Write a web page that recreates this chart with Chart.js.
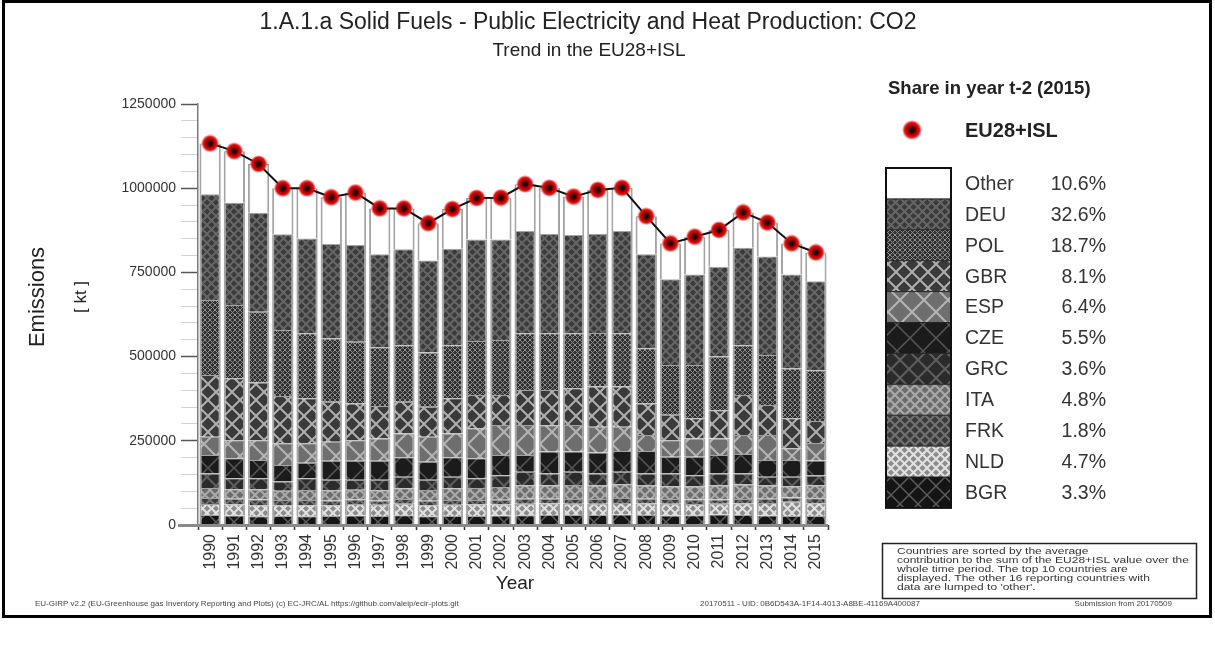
<!DOCTYPE html>
<html>
<head>
<meta charset="utf-8">
<title>1.A.1.a Solid Fuels - Public Electricity and Heat Production: CO2</title>
<script src="https://cdn.jsdelivr.net/npm/chart.js@4.4.1/dist/chart.umd.min.js"></script>
<style>
  html, body { margin: 0; padding: 0; background: #fff; }
  #wrap { position: relative; width: 1215px; height: 665px; }
</style>
</head>
<body>
<div id="wrap"><canvas id="chart" width="1215" height="665"></canvas></div>
<script>
// CO2 emissions from solid fuels in public electricity & heat production, kt
const years = ['1990','1991','1992','1993','1994','1995','1996','1997','1998','1999','2000','2001','2002',
               '2003','2004','2005','2006','2007','2008','2009','2010','2011','2012','2013','2014','2015'];

const bgr   = [30000,28000,26000,27000,26000,27000,28000,27000,29000,26000,27000,27000,28000,29000,30000,30000,30000,31000,30000,28000,29000,31000,30000,28000,27000,26600];
const nld   = [32000,33000,33000,32000,33000,32000,34000,33000,34000,33000,33000,34000,33000,34000,34000,33000,33000,34000,34000,35000,33000,32000,34000,37000,42000,38000];
const frk   = [18000,17000,17000,15000,15000,14000,14000,13000,14000,13000,14000,13000,14000,15000,14000,14000,14000,15000,14000,14000,14000,13000,13000,13000,13000,14500];
const ita   = [30000,28000,30000,28000,30000,30000,29000,30000,32000,32000,35000,36000,38000,40000,40000,42000,40000,41000,39000,38000,38000,42000,43000,39000,33000,38700];
const grc   = [43000,33000,33000,27000,35000,31000,29000,31000,34000,30000,34000,29000,35000,40000,35000,39000,36000,37000,36000,38000,34000,35000,33000,26000,28000,29000];
const cze   = [55000,59000,54000,49000,46000,57000,57000,57000,58000,54000,58000,59000,60000,50000,65000,60000,62000,62000,67000,50000,55000,55000,58000,50000,50000,44400];
const esp   = [54000,54000,59000,65000,58000,56000,61000,66000,71000,74000,71000,89000,89000,89000,78000,79000,77000,72000,47000,49000,54000,49000,56000,74000,35000,52000];
const gbr   = [183000,184000,171000,140000,133000,119000,109000,96000,94000,89000,104000,99000,89000,104000,105000,109000,119000,119000,94000,75000,60000,84000,119000,89000,89000,65400];
const pol   = [223000,217000,210000,196000,193000,188000,183000,175000,168000,161000,158000,160000,163000,168000,168000,163000,159000,158000,164000,148000,158000,159000,148000,149000,148000,151000];
const deu   = [314000,304000,294000,284000,282000,280000,287000,276000,285000,273000,286000,302000,299000,304000,295000,292000,294000,304000,279000,255000,269000,267000,289000,292000,279000,264000];
const other = [151000,153000,145000,137000,149000,139000,156000,136000,121000,111000,118000,123000,124000,139000,137000,114000,131000,128000,113000,106000,112000,109000,105000,101000,92000,85500];

const yTicksMajor = [0, 250000, 500000, 750000, 1000000, 1250000];

const noteLines = [
  'Countries are sorted by the average',
  'contribution to the sum of the EU28+ISL value over the',
  'whole time period. The top 10 countries are',
  'displayed. The other 16 reporting countries with',
  "data are lumped to 'other'."
];

const FONT = 'Arial, "Liberation Sans", Helvetica, sans-serif';
const canvas = document.getElementById('chart');
const ctx = canvas.getContext('2d');

// diagonal lattice fill used for the country hatches
function lattice(base, line, size, lw) {
  const t = document.createElement('canvas');
  t.width = t.height = size;
  const g = t.getContext('2d');
  g.fillStyle = base;
  g.fillRect(0, 0, size, size);
  if (line) {
    g.strokeStyle = line;
    g.lineWidth = lw;
    g.beginPath();
    g.moveTo(-1, -1); g.lineTo(size + 1, size + 1);
    g.moveTo(size + 1, -1); g.lineTo(-1, size + 1);
    g.stroke();
  }
  return ctx.createPattern(t, 'repeat');
}

// stacked bottom -> top
const series = [
  { label: 'BGR',   data: bgr,   fill: lattice('#141414', '#5c5c5c', 18, 1.5) },
  { label: 'NLD',   data: nld,   fill: lattice('#8c8c8c', '#e2e2e2', 9, 2) },
  { label: 'FRK',   data: frk,   fill: lattice('#3a3a3a', '#727272', 10, 2) },
  { label: 'ITA',   data: ita,   fill: lattice('#6c6c6c', '#aaaaaa', 10, 2) },
  { label: 'GRC',   data: grc,   fill: lattice('#2b2b2b', '#5e5e5e', 18, 2) },
  { label: 'CZE',   data: cze,   fill: lattice('#1b1b1b', '#575757', 26, 1.5) },
  { label: 'ESP',   data: esp,   fill: lattice('#6e6e6e', '#b4b4b4', 24, 2) },
  { label: 'GBR',   data: gbr,   fill: lattice('#3a3a3a', '#b0b0b0', 16, 2) },
  { label: 'POL',   data: pol,   fill: lattice('#303030', '#8c8c8c', 5, 1) },
  { label: 'DEU',   data: deu,   fill: lattice('#3a3a3a', '#666666', 9, 2) },
  { label: 'Other', data: other, fill: '#ffffff' }
];

const totals = years.map((_, i) => series.reduce((s, d) => s + d.data[i], 0));
const last = years.length - 1;

// red marker with dark core for the EU28+ISL total
const dot = document.createElement('canvas');
dot.width = dot.height = 18;
(function () {
  const g = dot.getContext('2d');
  const rg = g.createRadialGradient(9, 9, 0, 9, 9, 9);
  rg.addColorStop(0, '#1a0000');
  rg.addColorStop(0.28, '#400000');
  rg.addColorStop(0.45, '#b00000');
  rg.addColorStop(0.75, '#e01212');
  rg.addColorStop(1, 'rgba(230,20,20,0)');
  g.fillStyle = rg;
  g.beginPath(); g.arc(9, 9, 9, 0, Math.PI * 2); g.fill();
})();

const barSets = series.map(s => ({
  type: 'bar',
  label: s.label,
  data: s.data,
  backgroundColor: s.fill,
  borderColor: '#a4a4a4',
  borderWidth: { top: 1, bottom: 0, left: 2, right: 2 },
  borderSkipped: false,
  barPercentage: 0.88,
  categoryPercentage: 1,
  order: 1
}));

const lineSet = {
  type: 'line',
  label: 'EU28+ISL',
  data: totals,
  borderColor: '#111',
  borderWidth: 2,
  pointStyle: dot,
  pointRadius: 9,
  order: 0
};

const decor = {
  id: 'decor',
  beforeDraw(chart) {
    const c = chart.ctx;
    c.save();
    c.fillStyle = '#fff';
    c.fillRect(0, 0, chart.width, chart.height);
    c.restore();
  },
  afterDatasetsDraw(chart) {
    const c = chart.ctx, a = chart.chartArea;
    c.save();
    c.strokeStyle = '#8a8a8a';
    c.lineWidth = 3;
    c.beginPath();
    c.moveTo(178, a.bottom + 0.5);
    c.lineTo(a.right, a.bottom + 0.5);
    c.stroke();
    c.restore();
  },
  afterDraw(chart) {
    const c = chart.ctx;
    c.save();

    // outer frame
    c.strokeStyle = '#000';
    c.lineWidth = 3;
    c.strokeRect(3.5, 1.5, 1207, 615);

    // titles
    c.fillStyle = '#222';
    c.textAlign = 'center';
    c.textBaseline = 'middle';
    c.font = '23px ' + FONT;
    c.fillText('1.A.1.a Solid Fuels - Public Electricity and Heat Production: CO2', 588, 23);
    c.font = '19px ' + FONT;
    c.fillText('Trend in the EU28+ISL', 589, 51);

    // axis titles
    c.font = '19px ' + FONT;
    c.fillText('Year', 515, 584);
    c.save();
    c.translate(38, 297);
    c.rotate(-Math.PI / 2);
    c.font = '22px ' + FONT;
    c.fillText('Emissions', 0, 0);
    c.restore();
    c.save();
    c.translate(81, 297);
    c.rotate(-Math.PI / 2);
    c.font = '17px ' + FONT;
    c.fillText('[ kt ]', 0, 0);
    c.restore();

    // legend
    c.textAlign = 'left';
    c.font = 'bold 18.5px ' + FONT;
    c.fillText('Share in year t-2 (2015)', 888, 89);
    c.drawImage(dot, 902, 120, 20, 20);
    c.font = 'bold 20px ' + FONT;
    c.fillText('EU28+ISL', 965, 131);

    const lx = 886, ly = 168, lw = 65, rh = 30.9;
    const rows = series.slice().reverse();
    c.font = '19.5px ' + FONT;
    rows.forEach((s, i) => {
      const top = ly + i * rh;
      c.fillStyle = s.fill;
      c.fillRect(lx, top, lw, rh);
      c.strokeStyle = '#222';
      c.lineWidth = 1;
      c.beginPath();
      c.moveTo(lx, top); c.lineTo(lx + lw, top);
      c.stroke();
      c.fillStyle = '#333';
      c.textAlign = 'left';
      c.fillText(s.label, 965, top + rh / 2 + 1);
      c.textAlign = 'right';
      c.fillText((s.data[last] / totals[last] * 100).toFixed(1) + '%', 1106, top + rh / 2 + 1);
    });
    c.strokeStyle = '#111';
    c.lineWidth = 2;
    c.strokeRect(lx, ly, lw, rh * rows.length);

    // note box
    c.strokeStyle = '#222';
    c.lineWidth = 1.5;
    c.strokeRect(882.5, 543.5, 314, 55);
    c.fillStyle = '#333';
    c.textAlign = 'left';
    c.save();
    c.translate(897, 551);
    c.scale(1, 0.78);
    c.font = '12px ' + FONT;
    noteLines.forEach((t, i) => c.fillText(t, 0, i * 11.6));
    c.restore();

    // footer
    c.font = '8px ' + FONT;
    c.fillStyle = '#444';
    c.textAlign = 'left';
    c.fillText('EU-GIRP v2.2 (EU-Greenhouse gas Inventory Reporting and Plots) (c) EC-JRC/AL https://github.com/aleip/ecir-plots.git', 35, 604);
    c.fillText('20170511 - UID: 0B6D543A-1F14-4013-A8BE-41169A400087', 700, 604);
    c.textAlign = 'right';
    c.fillText('Submission from 20170509', 1172, 604);

    c.restore();
  }
};

new Chart(ctx, {
  data: { labels: years, datasets: [...barSets, lineSet] },
  options: {
    responsive: false,
    animation: false,
    devicePixelRatio: 1,
    layout: { padding: { top: 104, right: 387, bottom: 0, left: 0 } },
    plugins: {
      legend: { display: false },
      tooltip: { enabled: false },
      title: { display: false }
    },
    scales: {
      x: {
        stacked: true,
        offset: true,
        border: { display: false },
        grid: { drawOnChartArea: false, drawTicks: true, tickLength: 5, tickColor: '#333', tickWidth: 1.5 },
        ticks: { maxRotation: 90, minRotation: 90, autoSkip: false, padding: 4, color: '#333', font: { family: FONT, size: 16 } },
        afterFit: s => { s.height = 140; }
      },
      y: {
        stacked: true,
        min: 0,
        max: 1250000,
        border: { display: true, color: '#7a7a7a', width: 1.5 },
        grid: {
          drawOnChartArea: false,
          tickLength: 17,
          tickColor: c => (c.tick && yTicksMajor.includes(c.tick.value)) ? '#555' : '#d2d2d2',
          tickWidth: c => (c.tick && yTicksMajor.includes(c.tick.value)) ? 1.5 : 1
        },
        ticks: {
          stepSize: 50000,
          autoSkip: false,
          padding: 5,
          color: '#333',
          font: { family: FONT, size: 14 },
          callback: v => yTicksMajor.includes(v) ? String(v) : ''
        },
        afterFit: s => { s.width = 198; }
      }
    }
  },
  plugins: [decor]
});
</script>
</body>
</html>
